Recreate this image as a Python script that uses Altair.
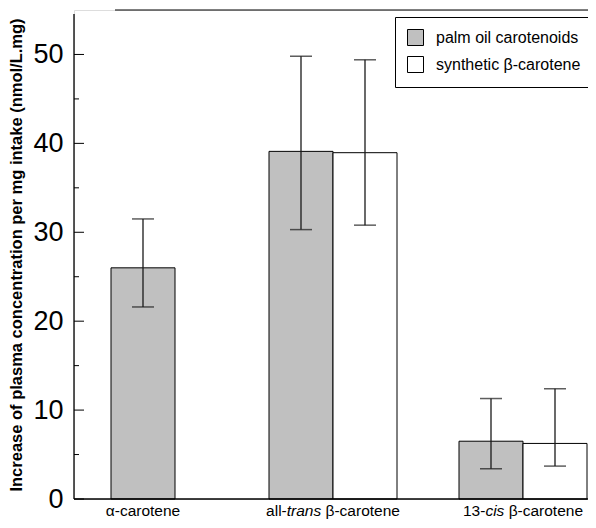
import altair as alt
import pandas as pd

# ---- data ----
categories = ["alpha", "trans", "cis"]
series = ["palm oil carotenoids", "synthetic β-carotene"]
palm_mean = [26.0, 39.1, 6.5]
palm_lo = [21.6, 30.3, 3.4]
palm_hi = [31.5, 49.8, 11.3]
synth_mean = [None, 38.95, 6.25]
synth_lo = [None, 30.8, 3.7]
synth_hi = [None, 49.4, 12.4]
major_ticks = [0, 10, 20, 30, 40, 50]
minor_ticks = [5, 15, 25, 35, 45]
label_parts = [
    [("α-carotene", "normal")],
    [("all-", "normal"), ("trans", "italic"), (" β-carotene", "normal")],
    [("13-", "normal"), ("cis", "italic"), (" β-carotene", "normal")],
]
y_title = "Increase of plasma concentration per mg intake (nmol/L.mg)"

# ---- layout / style ----
FONT = "Liberation Sans"
PAD_L, PAD_T, PAD_B = 66, 2, 21
W, H = 514, 489
STEP = 190
BAND = 128
FIRST = 5
LABEL_FS = 15.5

paired_rows, single_rows = [], []
for i, c in enumerate(categories):
    palm = {"cat": c, "series": series[0], "mean": palm_mean[i], "lo": palm_lo[i], "hi": palm_hi[i]}
    if synth_mean[i] is None:
        single_rows.append(palm)
    else:
        paired_rows.append(palm)
        paired_rows.append({"cat": c, "series": series[1], "mean": synth_mean[i],
                            "lo": synth_lo[i], "hi": synth_hi[i]})
df_pair = pd.DataFrame(paired_rows)
df_single = pd.DataFrame(single_rows)

pin = 1 - BAND / STEP
x_range = [FIRST, FIRST + STEP * (len(categories) - pin)]
xscale = alt.Scale(domain=categories, range=x_range, paddingInner=pin, paddingOuter=0)
xoff = alt.XOffset("series:N", scale=alt.Scale(domain=series, paddingInner=0, paddingOuter=0))
yscale = alt.Scale(domain=[0, 55], nice=False, zero=True)

X = alt.X("cat:N", scale=xscale, axis=None)


def Y(field):
    return alt.Y(field, scale=yscale, title=y_title,
                 axis=alt.Axis(values=major_ticks, tickSize=0, labelPadding=11, labelFontSize=27,
                               labelFont=FONT, labelColor="black", domain=False,
                               titleFont=FONT, titleFontSize=16.5, titleFontWeight="bold", titleColor="black",
                               titlePadding=8, grid=False))


color = alt.Color("series:N", scale=alt.Scale(domain=series, range=["#c0c0c0", "#ffffff"]),
                  legend=alt.Legend(orient="none", legendX=321, legendY=7, title=None,
                                    strokeColor="black", fillColor="white", padding=12,
                                    symbolType="square", symbolSize=256, symbolStrokeColor="black",
                                    symbolStrokeWidth=1, labelFontSize=16, labelFont=FONT,
                                    labelColor="black", labelOffset=12, rowPadding=6))

bars = alt.Chart(df_pair).mark_bar(stroke="black", strokeWidth=1).encode(
    x=X, xOffset=xoff, y=Y("mean:Q"), color=color)
bar_single = alt.Chart(df_single).mark_bar(stroke="black", strokeWidth=1,
                                           width=alt.RelativeBandSize(0.5)).encode(
    x=X, y=Y("mean:Q"), color=color)

ERR = "#1a1a1a"
err = alt.Chart(df_pair).mark_rule(color=ERR, strokeWidth=1.3).encode(
    x=X, xOffset=xoff, y=Y("lo:Q"), y2="hi:Q")
cap_lo = alt.Chart(df_pair).mark_tick(color=ERR, size=22, thickness=1.5).encode(
    x=X, xOffset=xoff, y=Y("lo:Q"))
cap_hi = alt.Chart(df_pair).mark_tick(color=ERR, size=22, thickness=1.5).encode(
    x=X, xOffset=xoff, y=Y("hi:Q"))
err1 = alt.Chart(df_single).mark_rule(color=ERR, strokeWidth=1.3).encode(
    x=X, y=Y("lo:Q"), y2="hi:Q")
cap_lo1 = alt.Chart(df_single).mark_tick(color=ERR, size=22, thickness=1.5).encode(
    x=X, y=Y("lo:Q"))
cap_hi1 = alt.Chart(df_single).mark_tick(color=ERR, size=22, thickness=1.5).encode(
    x=X, y=Y("hi:Q"))

maj = alt.Chart(pd.DataFrame({"v": major_ticks})).mark_rule(color="black", strokeWidth=1).encode(
    y=Y("v:Q"), x=alt.value(0), x2=alt.value(10))
mino = alt.Chart(pd.DataFrame({"v": minor_ticks})).mark_rule(color="black", strokeWidth=1).encode(
    y=Y("v:Q"), x=alt.value(0), x2=alt.value(5))

frame = pd.DataFrame({"a": [0]})
top_line = alt.Chart(frame).mark_rule(color="black", strokeWidth=1.2).encode(
    x=alt.value(41), x2=alt.value(W + 10), y=alt.value(0))
x_line = alt.Chart(frame).mark_rule(color="black", strokeWidth=1.3).encode(
    x=alt.value(0), x2=alt.value(W + 10), y=alt.value(H))
y_line = alt.Chart(frame).mark_rule(color="black", strokeWidth=1.3).encode(
    x=alt.value(0), y=alt.value(4), y2=alt.value(H))

# Arial / Liberation Sans advance widths (per 1000 em)
CW = {"a": 556, "l": 222, "-": 333, "t": 278, "r": 333, "n": 556, "s": 500, "c": 500, "o": 556,
      "e": 556, "1": 556, "3": 556, "i": 222, " ": 278, "β": 575, "α": 578}


def tw(s):
    return sum(CW.get(ch, 556) for ch in s) * LABEL_FS / 1000.0


texts = []
for i, parts in enumerate(label_parts):
    total = sum(tw(p) for p, _ in parts)
    start = -total / 2
    for p, style in parts:
        shown = p.lstrip(" ")
        lead = tw(p) - tw(shown)
        texts.append(
            alt.Chart(pd.DataFrame({"cat": [categories[i]], "t": [shown]})).mark_text(
                align="left", baseline="alphabetic", dx=start + lead, fontSize=LABEL_FS, font=FONT,
                fontStyle=style, color="black").encode(x=alt.X("cat:N", scale=xscale, axis=None),
                                                      y=alt.value(H + 17), text="t:N"))
        start += tw(p)

chart = alt.layer(bars, bar_single, err, cap_lo, cap_hi, err1, cap_lo1, cap_hi1,
                  maj, mino, top_line, x_line, y_line, *texts).properties(
    width=W, height=H,
    autosize=alt.AutoSizeParams(type="none"),
    padding={"left": PAD_L, "top": PAD_T, "right": 0, "bottom": PAD_B},
).configure_view(stroke=None).configure(font=FONT)

chart.save("out.html", embed_options={"renderer": "svg", "actions": False})
